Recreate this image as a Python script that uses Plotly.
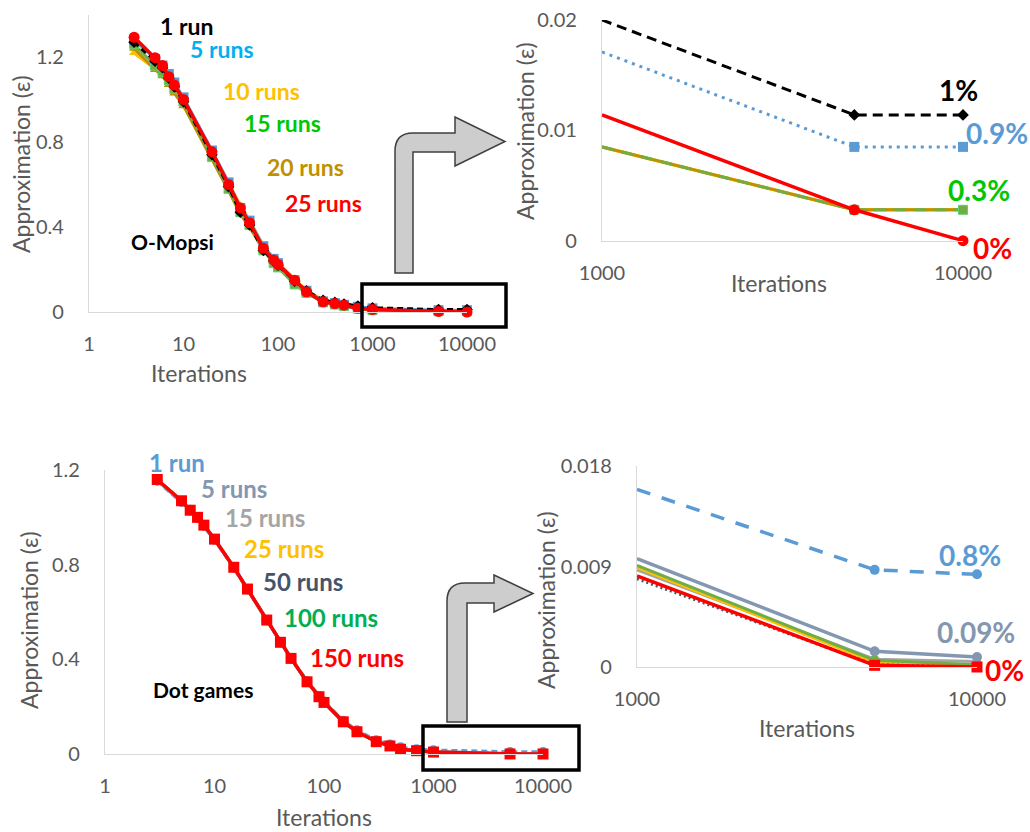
import plotly.graph_objects as go

W, H = 1030, 832


def px(x):
    return x / W


def py(y):
    return 1 - y / H


# ---------------- DATA ----------------
omopsi_iter = [3, 5, 6, 7, 8, 10, 20, 30, 40, 50, 70, 90, 100, 150, 200, 300, 400, 500, 700, 1000, 5000, 10000]
omopsi_1run = [1.27, 1.18, 1.15, 1.10, 1.06, 0.99, 0.74, 0.59, 0.47, 0.41, 0.29, 0.24, 0.22, 0.145, 0.10, 0.055, 0.045, 0.037, 0.028, 0.020, 0.0114, 0.0114]
omopsi_5runs = [1.28, 1.19, 1.16, 1.12, 1.08, 1.01, 0.76, 0.61, 0.49, 0.43, 0.31, 0.25, 0.23, 0.15, 0.10, 0.05, 0.042, 0.034, 0.025, 0.0171, 0.0085, 0.0085]
omopsi_10runs = [1.22, 1.15, 1.12, 1.08, 1.04, 0.98, 0.75, 0.60, 0.50, 0.43, 0.31, 0.25, 0.23, 0.15, 0.10, 0.055, 0.04, 0.03, 0.02, 0.0085, 0.0028, 0.0028]
omopsi_15runs = [1.26, 1.16, 1.13, 1.09, 1.05, 0.99, 0.73, 0.58, 0.47, 0.41, 0.29, 0.23, 0.21, 0.13, 0.09, 0.045, 0.035, 0.028, 0.015, 0.0085, 0.0028, 0.0028]
omopsi_20runs = [1.24, 1.14, 1.11, 1.07, 1.03, 0.97, 0.72, 0.57, 0.46, 0.40, 0.29, 0.24, 0.22, 0.14, 0.095, 0.05, 0.038, 0.03, 0.018, 0.0085, 0.0028, 0.0028]
omopsi_25runs = [1.293, 1.197, 1.16, 1.107, 1.068, 1.0, 0.754, 0.60, 0.49, 0.42, 0.30, 0.245, 0.224, 0.15, 0.095, 0.048, 0.04, 0.032, 0.018, 0.0114, 0.0028, 0.0]

dot_iter = [3, 5, 6, 7, 8, 10, 15, 20, 30, 40, 50, 70, 90, 100, 150, 200, 300, 400, 500, 700, 1000, 5000, 10000]
dot_1run = [1.155, 1.065, 1.03, 0.998, 0.965, 0.905, 0.787, 0.695, 0.565, 0.472, 0.405, 0.307, 0.245, 0.222, 0.14, 0.10, 0.058, 0.04, 0.028, 0.02, 0.0159, 0.0087, 0.0083]
dot_5runs = [1.157, 1.068, 1.032, 0.999, 0.966, 0.907, 0.788, 0.696, 0.566, 0.472, 0.404, 0.306, 0.243, 0.22, 0.138, 0.096, 0.054, 0.036, 0.022, 0.015, 0.0097, 0.0014, 0.0009]
dot_15runs = [1.156, 1.067, 1.031, 0.999, 0.966, 0.906, 0.788, 0.696, 0.566, 0.472, 0.404, 0.306, 0.243, 0.219, 0.137, 0.095, 0.053, 0.035, 0.021, 0.015, 0.0087, 0.0007, 0.0005]
dot_25runs = [1.158, 1.069, 1.031, 0.999, 0.967, 0.907, 0.789, 0.697, 0.567, 0.473, 0.405, 0.306, 0.243, 0.219, 0.137, 0.095, 0.053, 0.035, 0.021, 0.015, 0.0089, 0.0004, 0.0002]
dot_50runs = [1.159, 1.069, 1.03, 0.999, 0.967, 0.908, 0.789, 0.697, 0.566, 0.472, 0.404, 0.305, 0.242, 0.218, 0.136, 0.094, 0.052, 0.034, 0.02, 0.014, 0.0079, 0.0002, 0.0]
dot_100runs = [1.158, 1.068, 1.03, 0.999, 0.966, 0.907, 0.789, 0.697, 0.566, 0.472, 0.404, 0.305, 0.242, 0.218, 0.136, 0.094, 0.052, 0.034, 0.02, 0.014, 0.0091, 0.0006, 0.0002]
dot_150runs = [1.16, 1.07, 1.03, 1.0, 0.967, 0.908, 0.789, 0.697, 0.566, 0.472, 0.404, 0.305, 0.242, 0.218, 0.136, 0.094, 0.052, 0.034, 0.020, 0.014, 0.00815, 0.00015, 0.0]

x_tickvals = [1, 10, 100, 1000, 10000]
x_ticktext = ["1", "10", "100", "1000", "10000"]
zoom_x_tickvals = [1000, 10000]
zoom_x_ticktext = ["1000", "10000"]
main_y_tickvals = [0, 0.4, 0.8, 1.2]
main_y_ticktext = ["0", "0.4", "0.8", "1.2"]
omopsi_zoom_y_tickvals = [0, 0.01, 0.02]
omopsi_zoom_y_ticktext = ["0", "0.01", "0.02"]
dot_zoom_y_tickvals = [0, 0.009, 0.018]
dot_zoom_y_ticktext = ["0", "0.009", "0.018"]

omopsi_labels = ["1 run", "5 runs", "10 runs", "15 runs", "20 runs", "25 runs"]
dot_labels = ["1 run", "5 runs", "15 runs", "25 runs", "50 runs", "100 runs", "150 runs"]
omopsi_pct = ["1%", "0.9%", "0.3%", "0%"]
dot_pct = ["0.8%", "0.09%", "0%"]

FONT = "Lato"
TICKC = "#595959"
AXC = "#D9D9D9"

fig = go.Figure()

# ---------- O-Mopsi series styles ----------
omopsi_series = [
    (omopsi_10runs, dict(color="#FFC000", width=3.5, dash="solid"), dict(symbol="triangle-up", size=9, color="#FFC000")),
    (omopsi_20runs, dict(color="#BF9000", width=3, dash="solid"), dict(symbol="triangle-up", size=9, color="#BF9000")),
    (omopsi_15runs, dict(color="#70AD47", width=3, dash="12px,8px"), dict(symbol="square", size=9, color="#70AD47", line=dict(color="#5BD36B", width=1))),
    (omopsi_5runs, dict(color="#5B9BD5", width=3, dash="3px,5px"), dict(symbol="square", size=10, color="#5B9BD5")),
    (omopsi_1run, dict(color="#000000", width=3, dash="10px,6px"), dict(symbol="diamond", size=9, color="#000000")),
    (omopsi_25runs, dict(color="#FF0000", width=3.5, dash="solid"), dict(symbol="circle", size=11, color="#FF0000")),
]
for vals, line, marker in omopsi_series:
    main_line = dict(line)
    if main_line["dash"] != "solid":
        main_line["dash"] = "solid" if main_line["color"] != "#000000" else "6px,4px"
    fig.add_trace(go.Scatter(x=omopsi_iter, y=vals, mode="lines+markers", line=main_line,
                             marker=marker, xaxis="x", yaxis="y", cliponaxis=False, showlegend=False))
    fig.add_trace(go.Scatter(x=omopsi_iter[-3:], y=vals[-3:], mode="lines+markers", line=line,
                             marker=marker, xaxis="x2", yaxis="y2", cliponaxis=False, showlegend=False))

# ---------- Dot games series styles ----------
dot_series = [
    (dot_1run, dict(color="#5B9BD5", width=3.5, dash="14px,12px"), dict(symbol="circle", size=10, color="#5B9BD5")),
    (dot_15runs, dict(color="#A5A5A5", width=3, dash="solid"), dict(symbol="circle", size=8, color="#A5A5A5")),
    (dot_25runs, dict(color="#FFC000", width=2.5, dash="solid"), dict(symbol="circle", size=8, color="#FFC000")),
    (dot_50runs, dict(color="#44546A", width=3, dash="2px,3px"), dict(symbol="square", size=8, color="#2F5597")),
    (dot_100runs, dict(color="#70AD47", width=3, dash="solid"), dict(symbol="circle", size=10, color="#70AD47")),
    (dot_5runs, dict(color="#8497B0", width=3.5, dash="solid"), dict(symbol="circle", size=10, color="#8497B0")),
    (dot_150runs, dict(color="#FF0000", width=3.5, dash="solid"), dict(symbol="square", size=11, color="#FF0000")),
]
for vals, line, marker in dot_series:
    main_line = dict(line)
    main_line["dash"] = "solid" if line["color"] != "#5B9BD5" else "6px,4px"
    fig.add_trace(go.Scatter(x=dot_iter, y=vals, mode="lines+markers", line=main_line,
                             marker=marker, xaxis="x3", yaxis="y3", cliponaxis=False, showlegend=False))
    fig.add_trace(go.Scatter(x=dot_iter[-3:], y=vals[-3:], mode="lines+markers", line=line,
                             marker=marker, xaxis="x4", yaxis="y4", cliponaxis=False, showlegend=False))


def xax(x0, x1, anchor, rng, tv, tt):
    return dict(domain=[px(x0), px(x1)], anchor=anchor, type="log", range=rng, automargin=False,
                tickvals=tv, ticktext=tt, showline=True, linecolor=AXC, linewidth=1.2,
                showgrid=False, zeroline=False, ticks="", ticklabelstandoff=14,
                tickfont=dict(family=FONT, size=20, color=TICKC))


def yax(y0, y1, anchor, rng, tv, tt):
    return dict(domain=[py(y1), py(y0)], anchor=anchor, range=rng, automargin=False,
                tickvals=tv, ticktext=tt, showline=True, linecolor=AXC, linewidth=1.2,
                showgrid=False, zeroline=False, ticks="", ticklabelstandoff=20,
                tickfont=dict(family=FONT, size=20, color=TICKC))


layout = dict(
    template="none",
    width=W, height=H, margin=dict(l=0, r=0, t=0, b=0, pad=0, autoexpand=False), autosize=False,
    paper_bgcolor="white", plot_bgcolor="rgba(0,0,0,0)", showlegend=False,
    xaxis=xax(89, 467, "y", [0, 4], x_tickvals, x_ticktext),
    yaxis=yax(14.5, 312, "x", [0, 1.4], main_y_tickvals, main_y_ticktext),
    xaxis2=xax(602, 963, "y2", [3, 4], zoom_x_tickvals, zoom_x_ticktext),
    yaxis2=yax(20, 240.7, "x2", [0, 0.02], omopsi_zoom_y_tickvals, omopsi_zoom_y_ticktext),
    xaxis3=xax(105, 543, "y3", [0, 4], x_tickvals, x_ticktext),
    yaxis3=yax(470, 754, "x3", [0, 1.2], main_y_tickvals, main_y_ticktext),
    xaxis4=xax(637, 977, "y4", [3, 4], zoom_x_tickvals, zoom_x_ticktext),
    yaxis4=yax(466, 667, "x4", [0, 0.018], dot_zoom_y_tickvals, dot_zoom_y_ticktext),
)
fig.update_layout(**layout)

annotations = []


def text(x, y, s, color, size, bold=False, angle=0):
    annotations.append(dict(
        x=px(x), y=py(y), xref="paper", yref="paper", showarrow=False,
        text=("<b>%s</b>" % s) if bold else s, textangle=angle,
        xanchor="center", yanchor="middle",
        font=dict(family=FONT, size=size, color=color)))


# axis titles
text(21, 164, "Approximation (ε)", TICKC, 23, angle=-90)
text(199, 373, "Iterations", TICKC, 23)
text(525, 131, "Approximation (ε)", TICKC, 23, angle=-90)
text(779, 283, "Iterations", TICKC, 23)
text(29, 620, "Approximation (ε)", TICKC, 23, angle=-90)
text(324, 817, "Iterations", TICKC, 23)
text(546, 600, "Approximation (ε)", TICKC, 23, angle=-90)
text(807, 728, "Iterations", TICKC, 23)

# O-Mopsi labels
om_lab_pos = [(186, 26), (222, 49), (261, 91), (282, 123), (305, 167), (323, 203)]
om_lab_col = ["#000000", "#00B0F0", "#FFC000", "#00C800", "#BF9000", "#FF0000"]
for s, (x, y), c in zip(omopsi_labels, om_lab_pos, om_lab_col):
    text(x, y, s, c, 23, bold=True)
text(172, 242, "O-Mopsi", "#000000", 21, bold=True)

# Dot games labels
dot_lab_pos = [(177, 462), (234, 488), (265, 517), (284, 548), (303, 581), (331, 617), (357, 657)]
dot_lab_col = ["#5B9BD5", "#8497B0", "#A5A5A5", "#FFC000", "#44546A", "#00B050", "#FF0000"]
for s, (x, y), c in zip(dot_labels, dot_lab_pos, dot_lab_col):
    text(x, y, s, c, 24, bold=True)
text(203, 689, "Dot games", "#000000", 21, bold=True)

# percent labels
om_pct_pos = [(958, 90), (997, 133), (979, 190), (992, 248)]
om_pct_col = ["#000000", "#5B9BD5", "#00C800", "#FF0000"]
for s, (x, y), c in zip(omopsi_pct, om_pct_pos, om_pct_col):
    text(x, y, s, c, 28, bold=True)
dot_pct_pos = [(970, 555), (976, 632), (1004, 670)]
dot_pct_col = ["#5B9BD5", "#8497B0", "#FF0000"]
for s, (x, y), c in zip(dot_pct, dot_pct_pos, dot_pct_col):
    text(x, y, s, c, 28, bold=True)

fig.update_layout(annotations=annotations)


# shapes: boxes and bent arrows (pixel coordinates converted to paper)
def path(points):
    out = []
    for cmd, pts in points:
        coords = " ".join("%.5f,%.5f" % (px(a), py(b)) for a, b in pts)
        out.append(cmd + " " + coords if coords else cmd)
    return " ".join(out)


shapes = []
for (x0, y0, x1, y1) in [(362, 284, 506, 327), (423, 726, 579, 770)]:
    shapes.append(dict(type="rect", xref="paper", yref="paper", x0=px(x0), x1=px(x1), y0=py(y1), y1=py(y0),
                       line=dict(color="#000000", width=3.5), fillcolor="rgba(0,0,0,0)", layer="above"))


def arrow(sl, sr, sb, bt, bb, hx, ht, hb, tip, r):
    tipy = (ht + hb) / 2
    return path([
        ("M", [(sl, sb)]), ("L", [(sl, bt + r)]), ("Q", [(sl, bt), (sl + r, bt)]),
        ("L", [(hx, bt)]), ("L", [(hx, ht)]), ("L", [(tip, tipy)]), ("L", [(hx, hb)]),
        ("L", [(hx, bb)]), ("L", [(sr, bb)]), ("L", [(sr, sb)]), ("Z", []),
    ])


shapes.append(dict(type="path", xref="paper", yref="paper",
                   path=arrow(395, 413, 273, 133, 152, 455, 117, 166, 505, 18),
                   fillcolor="#CDCDCD", line=dict(color="#3F3F3F", width=1.5), layer="above"))
shapes.append(dict(type="path", xref="paper", yref="paper",
                   path=arrow(447, 467, 722, 583, 603, 494, 575, 612, 533, 18),
                   fillcolor="#CDCDCD", line=dict(color="#3F3F3F", width=1.5), layer="above"))
fig.update_layout(shapes=shapes)

fig.write_html("out.html", config={"displayModeBar": False},
               post_script="document.body.style.margin='0';document.body.style.overflow='hidden';")
